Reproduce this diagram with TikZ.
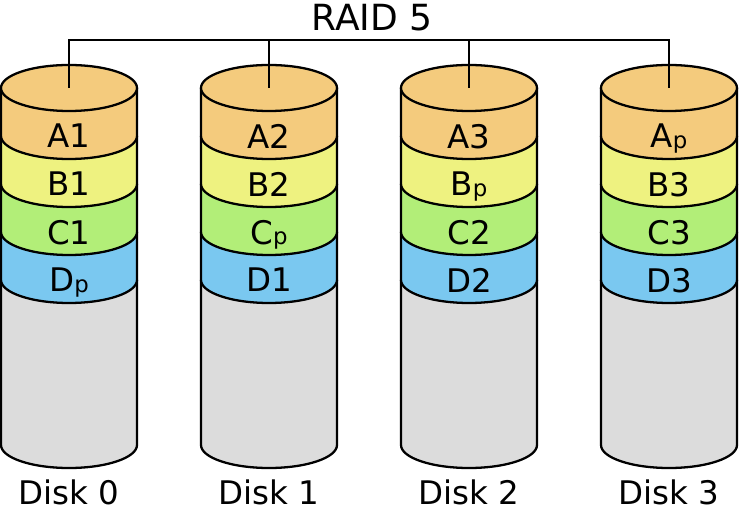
\documentclass[tikz,border=0pt]{standalone}
\usepackage{fontspec}
\setmainfont{DejaVu Sans}
\usepackage{xcolor}
\usepackage{tikz}
\usetikzlibrary{positioning, calc}
\definecolor{stripeA}{RGB}{244, 203, 125}
\definecolor{stripeB}{RGB}{238, 242, 128}
\definecolor{stripeC}{RGB}{178, 238, 120}
\definecolor{stripeD}{RGB}{122, 200, 240}
\definecolor{diskgray}{RGB}{220, 220, 220}
\newcommand{\pty}[1]{#1\raisebox{-0.5pt}{\fontsize{13}{13}\selectfont p}}
\tikzset{
  outline/.style={draw=black, line width=1.3pt},
  busline/.style={draw=black, line width=1.1pt},
  blocklabel/.style={font=\fontsize{18.5}{20}\selectfont, inner sep=0pt, text depth=0pt}
}

\begin{document}
\begin{tikzpicture}[x=0.02cm, y=0.02cm]
        \useasboundingbox (0,0) rectangle (740,514);

        % Title
        \node[blocklabel, font=\fontsize{20.5}{22}\selectfont] (title) at (372,497) {RAID 5};
        \coordinate (bus) at (369,474);

        % Disks, stripes drawn from the bottom up
        \foreach \i/\a/\b/\c/\d in {0/A1/B1/C1/\pty{D}, 1/A2/B2/\pty{C}/D1, 2/A3/\pty{B}/C2/D2, 3/\pty{A}/B3/C3/D3} {
            \pgfmathsetmacro{\cx}{69+200*\i}
            \filldraw[outline, fill=diskgray] (\cx-68,234) -- (\cx-68,69) arc[start angle=180, end angle=360, x radius=68, y radius=23] -- (\cx+68,234);
            \filldraw[outline, fill=stripeD] (\cx-68,282) -- (\cx-68,234) arc[start angle=180, end angle=360, x radius=68, y radius=23] -- (\cx+68,282);
            \filldraw[outline, fill=stripeC] (\cx-68,330) -- (\cx-68,282) arc[start angle=180, end angle=360, x radius=68, y radius=23] -- (\cx+68,330);
            \filldraw[outline, fill=stripeB] (\cx-68,378) -- (\cx-68,330) arc[start angle=180, end angle=360, x radius=68, y radius=23] -- (\cx+68,378);
            \filldraw[outline, fill=stripeA] (\cx-68,426) -- (\cx-68,378) arc[start angle=180, end angle=360, x radius=68, y radius=23] -- (\cx+68,426);
            \filldraw[outline, fill=stripeA] (\cx,426) ellipse[x radius=68, y radius=23];
            \coordinate (top\i) at (\cx,426);

            \node[blocklabel] (a\i) at (\cx,378) {\a};
            \node[blocklabel] (b\i) at (\cx,330) {\b};
            \node[blocklabel] (c\i) at (\cx,282) {\c};
            \node[blocklabel] (d\i) at (\cx,234) {\d};
            \node[blocklabel] (disk\i) at (\cx,22) {Disk \i};
        }

        % Bus to the disks
        \draw[busline] (top0) -- (top0 |- bus) -- (top3 |- bus) -- (top3);
        \draw[busline] (top1) -- (top1 |- bus);
        \draw[busline] (top2) -- (top2 |- bus);
    \end{tikzpicture}
\end{document}
